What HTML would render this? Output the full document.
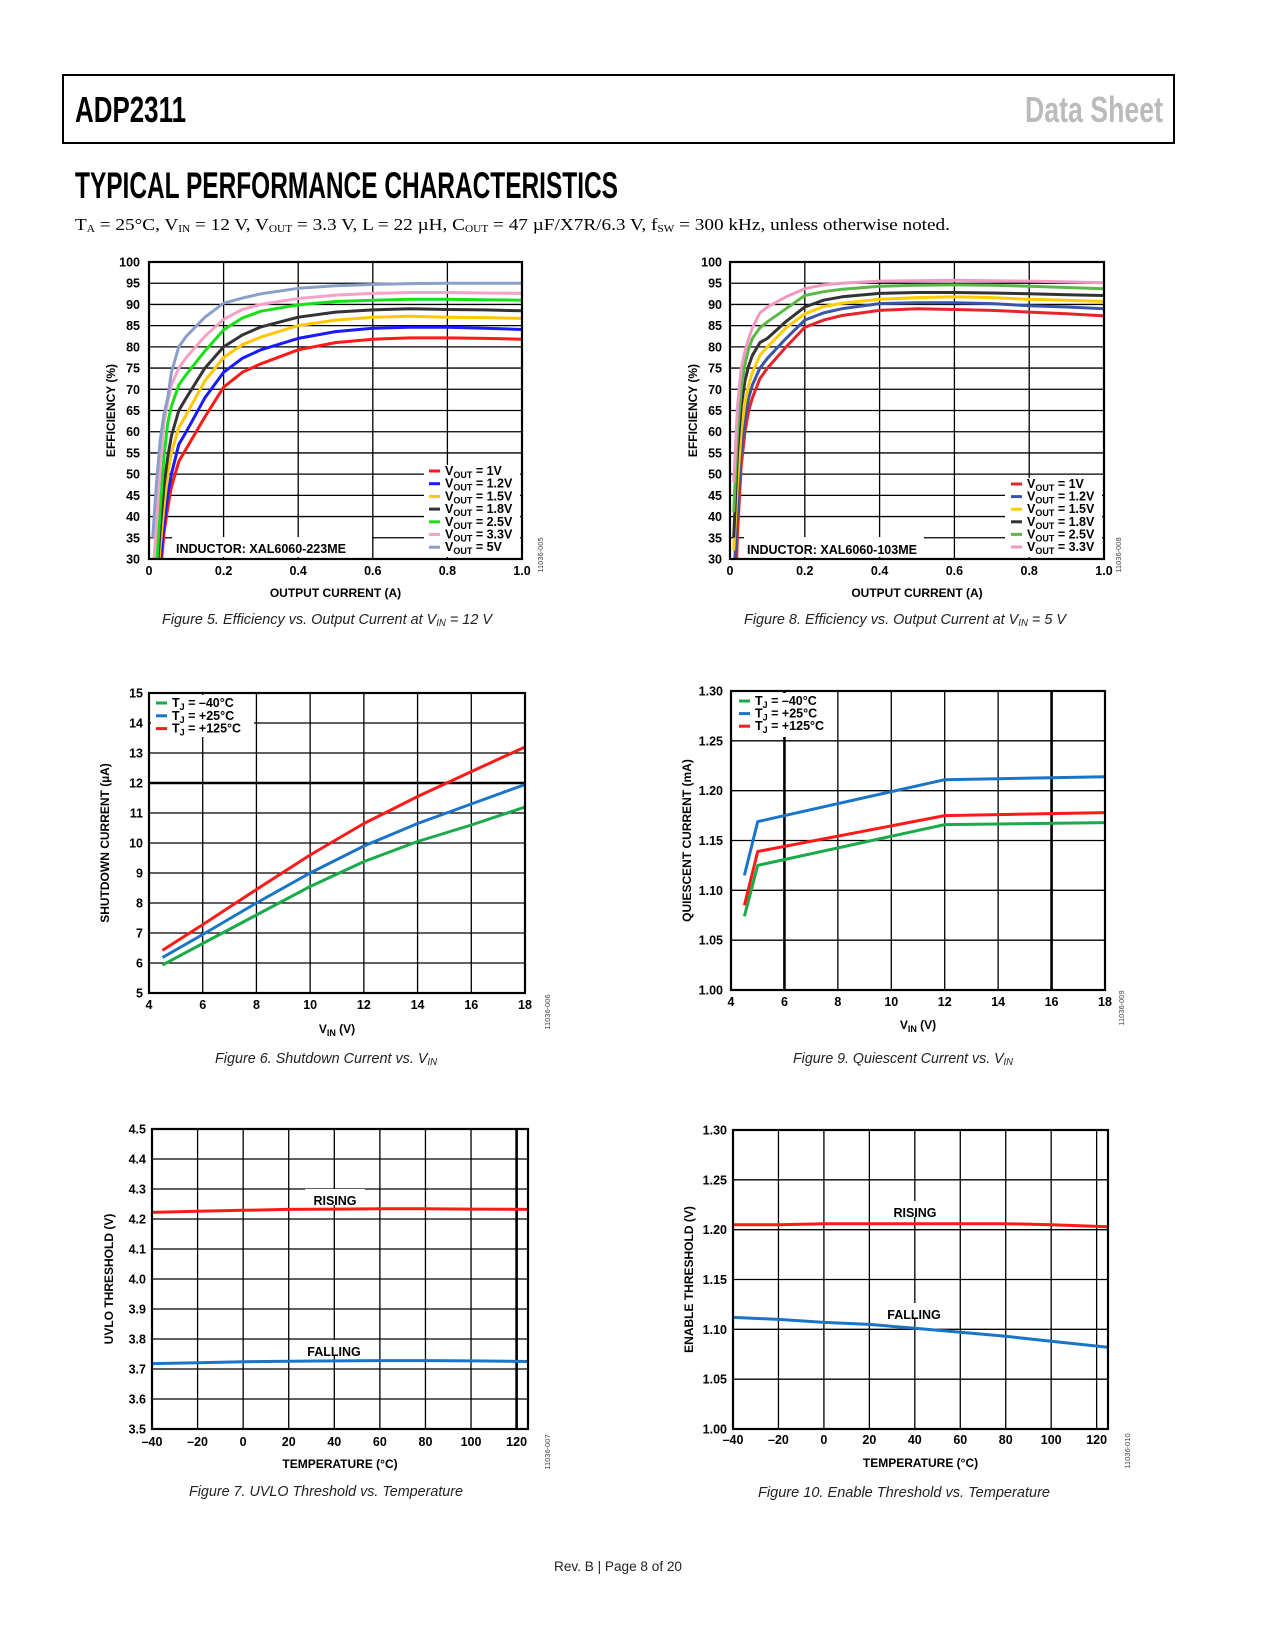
<!DOCTYPE html>
<html><head><meta charset="utf-8"><title>ADP2311 Typical Performance Characteristics</title>
<style>
html,body{margin:0;padding:0;background:#fff;}
svg{display:block;font-family:"Liberation Sans",Arial,sans-serif;}
.tk{font-size:12.5px;font-weight:bold;fill:#000;}
.at{font-size:12px;font-weight:bold;fill:#000;}
.cap{font-size:15px;font-style:italic;fill:#222;}
.lg{font-size:12.5px;font-weight:bold;fill:#000;}
.id{font-size:7.5px;fill:#444;}
</style></head>
<body>
<svg id="page" width="1275" height="1650" viewBox="0 0 1275 1650">
  <rect x="63" y="75" width="1111" height="68" fill="none" stroke="#000" stroke-width="2"/>
  <text x="75" y="122" font-size="36" font-weight="bold" textLength="111" lengthAdjust="spacingAndGlyphs">ADP2311</text>
  <text x="1025" y="122" font-size="36" font-weight="bold" fill="#bbb" textLength="138" lengthAdjust="spacingAndGlyphs">Data Sheet</text>
  <text x="75" y="198" font-size="37" font-weight="bold" textLength="543" lengthAdjust="spacingAndGlyphs">TYPICAL PERFORMANCE CHARACTERISTICS</text>
  <text x="75" y="230" font-size="17" font-family="Liberation Serif, serif" textLength="875" lengthAdjust="spacingAndGlyphs">T<tspan font-size="10" dy="2">A</tspan><tspan dy="-2"> = 25°C, V</tspan><tspan font-size="10" dy="2">IN</tspan><tspan dy="-2"> = 12 V, V</tspan><tspan font-size="10" dy="2">OUT</tspan><tspan dy="-2"> = 3.3 V, L = 22 µH, C</tspan><tspan font-size="10" dy="2">OUT</tspan><tspan dy="-2"> = 47 µF/X7R/6.3 V, f</tspan><tspan font-size="10" dy="2">SW</tspan><tspan dy="-2"> = 300 kHz, unless otherwise noted.</tspan></text>

  <text class="cap" x="162" y="624" textLength="330" lengthAdjust="spacingAndGlyphs">Figure 5. Efficiency vs. Output Current at V<tspan font-size="10" dy="2">IN</tspan><tspan dy="-2"> = 12 V</tspan></text>
  <text class="cap" x="744" y="624" textLength="322" lengthAdjust="spacingAndGlyphs">Figure 8. Efficiency vs. Output Current at V<tspan font-size="10" dy="2">IN</tspan><tspan dy="-2"> = 5 V</tspan></text>
  <text class="cap" x="215" y="1063" textLength="222" lengthAdjust="spacingAndGlyphs">Figure 6. Shutdown Current vs. V<tspan font-size="10" dy="2">IN</tspan></text>
  <text class="cap" x="793" y="1063" textLength="220" lengthAdjust="spacingAndGlyphs">Figure 9. Quiescent Current vs. V<tspan font-size="10" dy="2">IN</tspan></text>
  <text class="cap" x="189" y="1496" textLength="274" lengthAdjust="spacingAndGlyphs">Figure 7. UVLO Threshold vs. Temperature</text>
  <text class="cap" x="758" y="1497" textLength="292" lengthAdjust="spacingAndGlyphs">Figure 10. Enable Threshold vs. Temperature</text>
  <text x="554" y="1571" font-size="14" fill="#222" textLength="128" lengthAdjust="spacingAndGlyphs">Rev. B | Page 8 of 20</text>
  <g id="charts"></g>
</svg>
<script>
// ---- Figure 5 data (efficiency, VIN = 12 V) ----
const f5Current = [0.01,0.02,0.03,0.04,0.05,0.06,0.08,0.1,0.15,0.2,0.25,0.3,0.4,0.5,0.6,0.7,0.8,0.9,1.0];
const f5V1   = [10,20,26,36,42,47,53,56,63.5,70.5,74,76,79.3,81,81.8,82.1,82.1,82,81.8];
const f5V1p2 = [10,20,29,38,45,50,57,60,68,74,77.3,79.3,82,83.6,84.4,84.6,84.6,84.4,84.1];
const f5V1p5 = [12,22,33,42,50,55,61,64,72,77.5,80.5,82.3,85,86.3,87,87.2,87,86.9,86.7];
const f5V1p8 = [14,25,37,47,54,59,65,68,75,80,82.8,84.7,87,88.2,88.7,89,88.8,88.7,88.5];
const f5V2p5 = [16,28,42,54,62,66,71,73.5,79,84,86.8,88.4,89.9,90.7,91,91.2,91.2,91.1,91];
const f5V3p3 = [26,38,52,62,67,71,75,77.5,82.5,86.5,88.8,90,91.4,92.2,92.6,92.8,92.8,92.7,92.6];
const f5V5   = [35,48,58,64,68,74,80,82.5,87,90.3,91.5,92.5,93.8,94.4,94.7,94.9,95,95,95];
// ---- Figure 8 data (efficiency, VIN = 5 V) ----
const f8Current = [0.01,0.02,0.03,0.04,0.05,0.06,0.08,0.1,0.15,0.2,0.25,0.3,0.4,0.5,0.6,0.7,0.8,0.9,1.0];
const f8V1   = [10,36,52,60,65,68,72.5,75,80,84.6,86.3,87.4,88.6,89,88.8,88.6,88.2,87.8,87.3];
const f8V1p2 = [25,42,55,63,68,71,75,77.3,82,86.3,88,89,90.2,90.4,90.4,90.2,89.7,89.4,89];
const f8V1p5 = [32,48,60,67,71,74,78,80,84.5,87.8,89.5,90.3,91.2,91.6,91.8,91.6,91.2,91,90.7];
const f8V1p8 = [35,55,66,72,75.5,78,81,82,86,89.4,91,91.8,92.6,92.8,92.8,92.7,92.5,92.3,92.1];
const f8V2p5 = [41,60,70,76,79.5,82,84.5,85.9,89,92.1,93,93.6,94.3,94.5,94.6,94.5,94.3,94,93.7];
const f8V3p3 = [48,66,75,79,82,84.5,88,89.4,91.8,93.7,94.6,95,95.5,95.6,95.7,95.6,95.5,95.3,95.1];
// ---- Figure 6 data (shutdown current) ----
const f6Vin = [4.5,6,8,10,12,14,16,18];
const f6Tm40  = [5.93,6.65,7.6,8.55,9.38,10.05,10.6,11.2];
const f6T25   = [6.18,6.95,8.0,9.0,9.9,10.65,11.3,11.95];
const f6T125  = [6.42,7.28,8.45,9.6,10.65,11.55,12.38,13.2];
// ---- Figure 9 data (quiescent current) ----
const f9Vin = [4.5,5,12,18];
const f9Tm40 = [1.074,1.125,1.166,1.168];
const f9T25  = [1.115,1.169,1.211,1.214];
const f9T125 = [1.085,1.139,1.175,1.178];
// ---- Figure 7 data (UVLO threshold) ----
const f7Temp = [-40,-20,0,20,40,60,80,100,125];
const f7Rising  = [4.222,4.226,4.229,4.232,4.233,4.234,4.234,4.233,4.232];
const f7Falling = [3.718,3.721,3.724,3.726,3.727,3.728,3.728,3.727,3.725];
// ---- Figure 10 data (enable threshold) ----
const f10Temp = [-40,-20,0,20,40,60,80,100,125];
const f10Rising  = [1.205,1.205,1.206,1.206,1.206,1.206,1.206,1.205,1.203];
const f10Falling = [1.112,1.110,1.107,1.105,1.101,1.097,1.093,1.088,1.082];
// ---- tick labels ----
const effYTicks = [30,35,40,45,50,55,60,65,70,75,80,85,90,95,100];
const effXTicks = [0,0.2,0.4,0.6,0.8,1.0];
const effXLabels = ["0","0.2","0.4","0.6","0.8","1.0"];
const sdYTicks = [5,6,7,8,9,10,11,12,13,14,15];
const vinXTicks = [4,6,8,10,12,14,16,18];
const iqYTicks = [1.00,1.05,1.10,1.15,1.20,1.25,1.30];
const iqYLabels = ["1.00","1.05","1.10","1.15","1.20","1.25","1.30"];
const uvYTicks = [3.5,3.6,3.7,3.8,3.9,4.0,4.1,4.2,4.3,4.4,4.5];
const uvYLabels = ["3.5","3.6","3.7","3.8","3.9","4.0","4.1","4.2","4.3","4.4","4.5"];
const tempXTicks = [-40,-20,0,20,40,60,80,100,120];
const tempXLabels = ["–40","–20","0","20","40","60","80","100","120"];
const enYTicks = [1.00,1.05,1.10,1.15,1.20,1.25,1.30];
const enYLabels = ["1.00","1.05","1.10","1.15","1.20","1.25","1.30"];

const NS = "http://www.w3.org/2000/svg";
const root = document.getElementById('charts');
function mk(tag, attrs, parent){
  const e = document.createElementNS(NS, tag);
  for (const k in attrs) e.setAttribute(k, attrs[k]);
  (parent||root).appendChild(e);
  return e;
}
let clipN = 0;
function chart(c){
  const g = mk('g', {});
  
  
  const sx = v => c.L + (v - c.xmin) / (c.xmax - c.xmin) * (c.R - c.L);
  const sy = v => c.B - (v - c.ymin) / (c.ymax - c.ymin) * (c.B - c.T);
  c.yticks.forEach((t, i) => {
    const y = sy(t);
    const ln = mk('line', {x1:c.L, x2:c.R, y1:y, y2:y, stroke:'#000', 'stroke-width': (c.thickY && c.thickY.includes(t)) ? 2.6 : 1.3}, g);
    
    
    const tx = mk('text', {x:c.yLabR, y:y+4.5, 'text-anchor':'end', class:'tk'}, g);
    tx.textContent = c.yLabels ? c.yLabels[i] : String(t);
    
    
  });
  c.xticks.forEach((t, i) => {
    const x = sx(t);
    const ln = mk('line', {x1:x, x2:x, y1:c.T, y2:c.B, stroke:'#000', 'stroke-width': (c.thickX && c.thickX.includes(t)) ? 2.6 : 1.3}, g);
    
    
    const tx = mk('text', {x:x, y:c.xLabY, 'text-anchor':'middle', class:'tk'}, g);
    tx.textContent = c.xLabels ? c.xLabels[i] : String(t);
    
    
  });
  (c.boxes || []).forEach(b => {
    const r = mk('rect', {x:b[0], y:b[1], width:b[2], height:b[3], fill:'#fff'}, g);
    
    
  });
  const id = 'clip' + (clipN++);
  const cp = mk('clipPath', {id:id}, g);
  mk('rect', {x:c.L, y:c.T, width:c.R-c.L, height:c.B-c.T}, cp);
  c.series.forEach(s => {
    const pts = s.y.map((v, i) => sx(c.x[i]).toFixed(1) + ',' + sy(v).toFixed(1)).join(' ');
    const pl = mk('polyline', {points:pts, fill:'none', stroke:s.color, 'stroke-width':3, 'stroke-linejoin':'round', 'clip-path':'url(#'+id+')'}, g);
    
    
  });
  const fr = mk('rect', {x:c.L, y:c.T, width:c.R-c.L, height:c.B-c.T, fill:'none', stroke:'#000', 'stroke-width':2.2}, g);
  
  
  (c.legend || []).forEach((e, i) => {
    const y = c.legY + i * c.legDy;
    const ln = mk('line', {x1:c.legX, x2:c.legX+11, y1:y, y2:y, stroke:e.color, 'stroke-width':3}, g);
    
    
    const tx = mk('text', {x:c.legX+16, y:y+4, class:'lg'}, g);
    tx.innerHTML = e.label;
    
    
  });
  (c.notes || []).forEach(n => {
    const tx = mk('text', {x:n.x, y:n.y, 'text-anchor':n.anchor||'start', class:'lg'}, g);
    tx.textContent = n.t;
    
    
  });
  const xt = mk('text', {x:(c.L+c.R)/2, y:c.xTitleY, 'text-anchor':'middle', class:'at'}, g);
  xt.innerHTML = c.xTitle;
  
  
  const yc = (c.T + c.B) / 2;
  const yt = mk('text', {x:c.yTitleX, y:yc, 'text-anchor':'middle', class:'at', transform:'rotate(-90 '+c.yTitleX+' '+yc+')'}, g);
  yt.textContent = c.yTitle;
  
  
  const idt = mk('text', {x:c.idX, y:c.idY, 'text-anchor':'middle', class:'id', transform:'rotate(-90 '+c.idX+' '+c.idY+')'}, g);
  idt.textContent = c.idText;
  
  
}
const vout = v => 'V<tspan font-size="9" dy="3">OUT</tspan><tspan dy="-3"> = ' + v + '</tspan>';
const tj = v => 'T<tspan font-size="9" dy="3">J</tspan><tspan dy="-3"> = ' + v + '</tspan>';
const C = {red:'#ff1a1a', blue:'#1a1aff', yel:'#ffc800', blk:'#333', grn:'#18e018', pnk:'#f7a0c8', sl:'#8aa0c8'};
const C2 = {red:'#e8242b', blue:'#3a55a6', yel:'#ffcc00', blk:'#333', grn:'#5ab946', pnk:'#f09ac3'};

chart({name:'figure-5-efficiency-chart', L:149, R:522, T:262, B:559, xmin:0, xmax:1, ymin:30, ymax:100,
  xticks:effXTicks, xLabels:effXLabels, yticks:effYTicks, yLabR:140, xLabY:575,
  x:f5Current,
  series:[{id:'series-vout-1v',y:f5V1,color:C.red},{id:'series-vout-1p2v',y:f5V1p2,color:C.blue},{id:'series-vout-1p5v',y:f5V1p5,color:C.yel},
    {id:'series-vout-1p8v',y:f5V1p8,color:C.blk},{id:'series-vout-2p5v',y:f5V2p5,color:C.grn},{id:'series-vout-3p3v',y:f5V3p3,color:C.pnk},{id:'series-vout-5v',y:f5V5,color:C.sl}],
  boxes:[[424,465,96,92],[172,537,200,20]],
  legend:[{color:C.red,label:vout('1V')},{color:C.blue,label:vout('1.2V')},{color:C.yel,label:vout('1.5V')},{color:C.blk,label:vout('1.8V')},{color:C.grn,label:vout('2.5V')},{color:C.pnk,label:vout('3.3V')},{color:C.sl,label:vout('5V')}],
  legX:429, legY:471, legDy:12.7,
  notes:[{t:'INDUCTOR: XAL6060-223ME', x:176, y:553, name:'inductor-note'}],
  xTitle:'OUTPUT CURRENT (A)', xTitleY:597, yTitle:'EFFICIENCY (%)', yTitleX:115, idX:543, idY:555, idText:'11036-005'});

chart({name:'figure-8-efficiency-chart', L:730, R:1104, T:262, B:559, xmin:0, xmax:1, ymin:30, ymax:100,
  xticks:effXTicks, xLabels:effXLabels, yticks:effYTicks, yLabR:722, xLabY:575,
  x:f8Current,
  series:[{id:'series-vout-1v',y:f8V1,color:C2.red},{id:'series-vout-1p2v',y:f8V1p2,color:C2.blue},{id:'series-vout-1p5v',y:f8V1p5,color:C2.yel},
    {id:'series-vout-1p8v',y:f8V1p8,color:C2.blk},{id:'series-vout-2p5v',y:f8V2p5,color:C2.grn},{id:'series-vout-3p3v',y:f8V3p3,color:C2.pnk}],
  boxes:[[1005,478,97,79],[744,537,180,20]],
  legend:[{color:C2.red,label:vout('1V')},{color:C2.blue,label:vout('1.2V')},{color:C2.yel,label:vout('1.5V')},{color:C2.blk,label:vout('1.8V')},{color:C2.grn,label:vout('2.5V')},{color:C2.pnk,label:vout('3.3V')}],
  legX:1011, legY:484, legDy:12.6,
  notes:[{t:'INDUCTOR: XAL6060-103ME', x:747, y:554, name:'inductor-note'}],
  xTitle:'OUTPUT CURRENT (A)', xTitleY:597, yTitle:'EFFICIENCY (%)', yTitleX:697, idX:1121, idY:555, idText:'11036-008'});

chart({name:'figure-6-shutdown-chart', L:149, R:525, T:693, B:993, xmin:4, xmax:18, ymin:5, ymax:15,
  xticks:vinXTicks, yticks:sdYTicks, thickY:[12], yLabR:143, xLabY:1009,
  x:f6Vin,
  series:[{id:'series-tj-minus40',y:f6Tm40,color:'#1aaa4a'},{id:'series-tj-25',y:f6T25,color:'#1a75c8'},{id:'series-tj-125',y:f6T125,color:'#ff1a1a'}],
  boxes:[[151,695,103,42]],
  legend:[{color:'#1aaa4a',label:tj('–40°C')},{color:'#1a75c8',label:tj('+25°C')},{color:'#ff1a1a',label:tj('+125°C')}],
  legX:156, legY:703, legDy:12.8,
  xTitle:'V<tspan font-size="9" dy="3">IN</tspan><tspan dy="-3"> (V)</tspan>', xTitleY:1033, yTitle:'SHUTDOWN CURRENT (µA)', yTitleX:109, idX:550, idY:1012, idText:'11036-006'});

chart({name:'figure-9-quiescent-chart', L:731, R:1105, T:691, B:990, xmin:4, xmax:18, ymin:1.0, ymax:1.3,
  xticks:vinXTicks, yticks:iqYTicks, yLabels:iqYLabels, thickX:[6,16], yLabR:723, xLabY:1006,
  x:f9Vin,
  series:[{id:'series-tj-minus40',y:f9Tm40,color:'#1aaa4a'},{id:'series-tj-25',y:f9T25,color:'#1a75c8'},{id:'series-tj-125',y:f9T125,color:'#ff1a1a'}],
  boxes:[[733,693,95,44]],
  legend:[{color:'#1aaa4a',label:tj('–40°C')},{color:'#1a75c8',label:tj('+25°C')},{color:'#ff1a1a',label:tj('+125°C')}],
  legX:739, legY:701, legDy:12.6,
  xTitle:'V<tspan font-size="9" dy="3">IN</tspan><tspan dy="-3"> (V)</tspan>', xTitleY:1029, yTitle:'QUIESCENT CURRENT (mA)', yTitleX:691, idX:1124, idY:1008, idText:'11036-009'});

chart({name:'figure-7-uvlo-chart', L:152, R:528, T:1129, B:1429, xmin:-40, xmax:125, ymin:3.5, ymax:4.5,
  xticks:tempXTicks, xLabels:tempXLabels, yticks:uvYTicks, yLabels:uvYLabels, thickX:[120], yLabR:146, xLabY:1446,
  x:f7Temp,
  series:[{id:'series-rising',y:f7Rising,color:'#ff1a1a'},{id:'series-falling',y:f7Falling,color:'#1a75c8'}],
  boxes:[[305,1189,60,16],[300,1340,70,16]],
  notes:[{t:'RISING', x:335, y:1205, anchor:'middle', name:'rising-label'},{t:'FALLING', x:334, y:1356, anchor:'middle', name:'falling-label'}],
  xTitle:'TEMPERATURE (°C)', xTitleY:1468, yTitle:'UVLO THRESHOLD (V)', yTitleX:113, idX:550, idY:1452, idText:'11036-007'});

chart({name:'figure-10-enable-chart', L:733, R:1108, T:1130, B:1429, xmin:-40, xmax:125, ymin:1.0, ymax:1.3,
  xticks:tempXTicks, xLabels:tempXLabels, yticks:enYTicks, yLabels:enYLabels, yLabR:727, xLabY:1444,
  x:f10Temp,
  series:[{id:'series-rising',y:f10Rising,color:'#ff1a1a'},{id:'series-falling',y:f10Falling,color:'#1a75c8'}],
  boxes:[[885,1201,60,16],[878,1303,72,16]],
  notes:[{t:'RISING', x:915, y:1217, anchor:'middle', name:'rising-label'},{t:'FALLING', x:914, y:1319, anchor:'middle', name:'falling-label'}],
  xTitle:'TEMPERATURE (°C)', xTitleY:1467, yTitle:'ENABLE THRESHOLD (V)', yTitleX:693, idX:1130, idY:1451, idText:'11036-010'});
</script>
</body></html>
